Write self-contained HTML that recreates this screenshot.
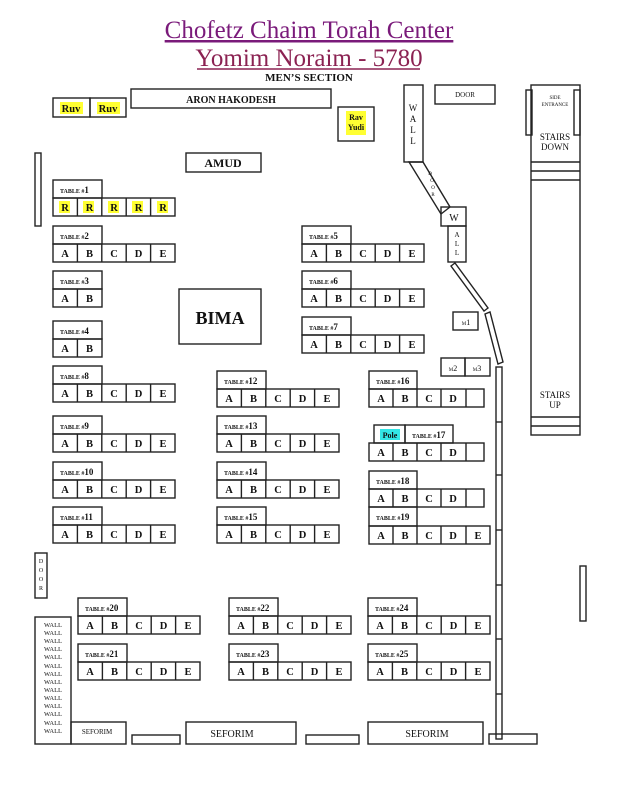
<!DOCTYPE html>
<html><head><meta charset="utf-8"><style>
html,body{margin:0;padding:0;background:#fff;}
svg{display:block;}
rect,line,polygon{fill:none;stroke:#222;stroke-width:1.4;}
text{font-family:"Liberation Serif",serif;fill:#111;}
.t{font-size:6px;font-weight:bold;}
.n{font-size:9px;}
.l{font-size:10.5px;font-weight:bold;text-anchor:middle;}
.s{font-size:8px;text-anchor:middle;}
.hl{fill:#ffff33;stroke:none;}
</style></head><body>
<svg width="618" height="800" viewBox="0 0 618 800" xmlns="http://www.w3.org/2000/svg">
<!-- titles -->
<text x="309" y="38" text-anchor="middle" style="font-size:25px;fill:#7a1a7a" text-decoration="underline">Chofetz Chaim Torah Center</text>
<line x1="168" y1="41" x2="450" y2="41" style="stroke:#7a1a7a;stroke-width:1.5"/>
<text x="309" y="66" text-anchor="middle" style="font-size:25px;fill:#8b2252">Yomim Noraim - 5780</text>
<line x1="197" y1="69" x2="420" y2="69" style="stroke:#8b2252;stroke-width:1.5"/>
<text x="309" y="81" text-anchor="middle" style="font-size:11px;font-weight:bold">MEN’S SECTION</text>

<!-- top items -->
<rect x="131" y="89" width="200" height="19"/><text x="231" y="103" class="s" style="font-size:10px;font-weight:bold">ARON HAKODESH</text>
<rect x="53" y="98" width="37" height="19"/><rect x="90" y="98" width="36" height="19"/>
<rect class="hl" x="60" y="102" width="23" height="12"/><rect class="hl" x="97" y="102" width="23" height="12"/>
<text x="71" y="112" class="l">Ruv</text><text x="108" y="112" class="l">Ruv</text>
<rect x="338" y="107" width="36" height="34"/>
<rect class="hl" x="346" y="111" width="20" height="24"/>
<text x="356" y="120" class="s" style="font-weight:bold">Rav</text><text x="356" y="130" class="s" style="font-weight:bold">Yudi</text>
<rect x="186" y="153" width="75" height="19"/><text x="223" y="167" class="l" style="font-size:12px">AMUD</text>
<rect x="35" y="153" width="6" height="73"/>
<rect x="179" y="289" width="82" height="55"/><text x="220" y="324" class="l" style="font-size:18px">BIMA</text>

<!-- right walls -->
<rect x="404" y="85" width="19" height="77"/>
<text x="413" y="111" class="s" style="font-size:9px">W</text><text x="413" y="122" class="s" style="font-size:9px">A</text><text x="413" y="133" class="s" style="font-size:9px">L</text><text x="413" y="144" class="s" style="font-size:9px">L</text>
<rect x="435" y="85" width="60" height="19"/><text x="465" y="97" class="s" style="font-size:7px">DOOR</text>
<polygon points="409,162 423,162 450,207 441,214"/>
<text x="430" y="175" class="s" style="font-size:5px">D</text><text x="432" y="182" class="s" style="font-size:5px">O</text><text x="433" y="189" class="s" style="font-size:5px">O</text><text x="433" y="196" class="s" style="font-size:5px">R</text>
<rect x="441" y="207" width="25" height="19"/><text x="454" y="221" class="s" style="font-size:10px">W</text>
<rect x="448" y="226" width="18" height="36"/>
<text x="457" y="237" class="s" style="font-size:7px">A</text><text x="457" y="246" class="s" style="font-size:7px">L</text><text x="457" y="255" class="s" style="font-size:7px">L</text>
<polygon points="451,266 455,263 488,308 484,311"/>
<polygon points="485,314 490,312 503,362 498,364"/>
<rect x="496" y="367" width="6" height="372"/>
<line x1="496" y1="422" x2="502" y2="422"/><line x1="496" y1="475" x2="502" y2="475"/><line x1="496" y1="530" x2="502" y2="530"/><line x1="496" y1="585" x2="502" y2="585"/><line x1="496" y1="639" x2="502" y2="639"/><line x1="496" y1="694" x2="502" y2="694"/>
<rect x="489" y="734" width="48" height="10"/>
<rect x="580" y="566" width="6" height="55"/>

<!-- stairs -->
<rect x="531" y="85" width="49" height="350"/>
<rect x="526" y="90" width="6" height="45"/><rect x="574" y="90" width="6" height="45"/>
<text x="555" y="99" class="s" style="font-size:5px">SIDE</text><text x="555" y="106" class="s" style="font-size:5px">ENTRANCE</text>
<text x="555" y="140" class="s" style="font-size:9px">STAIRS</text><text x="555" y="150" class="s" style="font-size:9px">DOWN</text>
<line x1="531" y1="162" x2="580" y2="162"/><line x1="531" y1="171" x2="580" y2="171"/><line x1="531" y1="180" x2="580" y2="180"/>
<text x="555" y="398" class="s" style="font-size:9px">STAIRS</text><text x="555" y="408" class="s" style="font-size:9px">UP</text>
<line x1="531" y1="417" x2="580" y2="417"/><line x1="531" y1="426" x2="580" y2="426"/>

<!-- M boxes -->
<rect x="453" y="312" width="25" height="18"/><text x="466" y="325" class="s" style="font-size:8px"><tspan style="font-size:5px">M</tspan>1</text>
<rect x="441" y="358" width="24" height="18"/><text x="453" y="371" class="s"><tspan style="font-size:5px">M</tspan>2</text>
<rect x="465" y="358" width="25" height="18"/><text x="477" y="371" class="s"><tspan style="font-size:5px">M</tspan>3</text>

<!-- left bottom -->
<rect x="35" y="553" width="12" height="45"/>
<text x="41" y="563" class="s" style="font-size:6px">D</text><text x="41" y="572" class="s" style="font-size:6px">O</text><text x="41" y="581" class="s" style="font-size:6px">O</text><text x="41" y="590" class="s" style="font-size:6px">R</text>
<rect x="35" y="617" width="36" height="127"/>
<g class="s" style="font-size:6.5px">
<text x="53" y="627" class="s" style="font-size:6.5px">WALL</text><text x="53" y="635" class="s" style="font-size:6.5px">WALL</text><text x="53" y="643" class="s" style="font-size:6.5px">WALL</text><text x="53" y="651" class="s" style="font-size:6.5px">WALL</text><text x="53" y="659" class="s" style="font-size:6.5px">WALL</text><text x="53" y="668" class="s" style="font-size:6.5px">WALL</text><text x="53" y="676" class="s" style="font-size:6.5px">WALL</text><text x="53" y="684" class="s" style="font-size:6.5px">WALL</text><text x="53" y="692" class="s" style="font-size:6.5px">WALL</text><text x="53" y="700" class="s" style="font-size:6.5px">WALL</text><text x="53" y="708" class="s" style="font-size:6.5px">WALL</text><text x="53" y="716" class="s" style="font-size:6.5px">WALL</text><text x="53" y="725" class="s" style="font-size:6.5px">WALL</text><text x="53" y="733" class="s" style="font-size:6.5px">WALL</text>
</g>
<rect x="71" y="722" width="55" height="22"/><text x="97" y="734" class="s" style="font-size:7px">SEFORIM</text>
<rect x="132" y="735" width="48" height="9"/>
<rect x="186" y="722" width="110" height="22"/><text x="232" y="737" class="s" style="font-size:10px">SEFORIM</text>
<rect x="306" y="735" width="53" height="9"/>
<rect x="368" y="722" width="115" height="22"/><text x="427" y="737" class="s" style="font-size:10px">SEFORIM</text>

<!-- TABLES -->
<!-- T1 -->
<rect x="53" y="180" width="49" height="18"/><text class="t" x="60" y="193">TABLE #<tspan class="n">1</tspan></text>
<rect class="hl" x="59" y="201" width="11" height="12"/><rect class="hl" x="83" y="201" width="11" height="12"/><rect class="hl" x="108" y="201" width="11" height="12"/><rect class="hl" x="132" y="201" width="11" height="12"/><rect class="hl" x="157" y="201" width="11" height="12"/>
<rect x="53" y="198" width="122" height="18"/><line x1="77.4" y1="198" x2="77.4" y2="216"/><line x1="101.8" y1="198" x2="101.8" y2="216"/><line x1="126.2" y1="198" x2="126.2" y2="216"/><line x1="150.6" y1="198" x2="150.6" y2="216"/>
<text class="l" x="65" y="211">R</text><text class="l" x="89.5" y="211">R</text><text class="l" x="114" y="211">R</text><text class="l" x="138.5" y="211">R</text><text class="l" x="163" y="211">R</text>

<!-- T2 -->
<rect x="53" y="226" width="49" height="18"/><text class="t" x="60" y="239">TABLE #<tspan class="n">2</tspan></text>
<rect x="53" y="244" width="122" height="18"/><line x1="77.4" y1="244" x2="77.4" y2="262"/><line x1="101.8" y1="244" x2="101.8" y2="262"/><line x1="126.2" y1="244" x2="126.2" y2="262"/><line x1="150.6" y1="244" x2="150.6" y2="262"/>
<text class="l" x="65" y="257">A</text><text class="l" x="89.5" y="257">B</text><text class="l" x="114" y="257">C</text><text class="l" x="138.5" y="257">D</text><text class="l" x="163" y="257">E</text>

<!-- T3 -->
<rect x="53" y="271" width="49" height="18"/><text class="t" x="60" y="284">TABLE #<tspan class="n">3</tspan></text>
<rect x="53" y="289" width="49" height="18"/><line x1="77.4" y1="289" x2="77.4" y2="307"/>
<text class="l" x="65" y="302">A</text><text class="l" x="89.5" y="302">B</text>

<!-- T4 -->
<rect x="53" y="321" width="49" height="18"/><text class="t" x="60" y="334">TABLE #<tspan class="n">4</tspan></text>
<rect x="53" y="339" width="49" height="18"/><line x1="77.4" y1="339" x2="77.4" y2="357"/>
<text class="l" x="65" y="352">A</text><text class="l" x="89.5" y="352">B</text>

<!-- T8 -->
<rect x="53" y="366" width="49" height="18"/><text class="t" x="60" y="379">TABLE #<tspan class="n">8</tspan></text>
<rect x="53" y="384" width="122" height="18"/><line x1="77.4" y1="384" x2="77.4" y2="402"/><line x1="101.8" y1="384" x2="101.8" y2="402"/><line x1="126.2" y1="384" x2="126.2" y2="402"/><line x1="150.6" y1="384" x2="150.6" y2="402"/>
<text class="l" x="65" y="397">A</text><text class="l" x="89.5" y="397">B</text><text class="l" x="114" y="397">C</text><text class="l" x="138.5" y="397">D</text><text class="l" x="163" y="397">E</text>

<!-- T9 -->
<rect x="53" y="416" width="49" height="18"/><text class="t" x="60" y="429">TABLE #<tspan class="n">9</tspan></text>
<rect x="53" y="434" width="122" height="18"/><line x1="77.4" y1="434" x2="77.4" y2="452"/><line x1="101.8" y1="434" x2="101.8" y2="452"/><line x1="126.2" y1="434" x2="126.2" y2="452"/><line x1="150.6" y1="434" x2="150.6" y2="452"/>
<text class="l" x="65" y="447">A</text><text class="l" x="89.5" y="447">B</text><text class="l" x="114" y="447">C</text><text class="l" x="138.5" y="447">D</text><text class="l" x="163" y="447">E</text>

<!-- T10 -->
<rect x="53" y="462" width="49" height="18"/><text class="t" x="60" y="475">TABLE #<tspan class="n">10</tspan></text>
<rect x="53" y="480" width="122" height="18"/><line x1="77.4" y1="480" x2="77.4" y2="498"/><line x1="101.8" y1="480" x2="101.8" y2="498"/><line x1="126.2" y1="480" x2="126.2" y2="498"/><line x1="150.6" y1="480" x2="150.6" y2="498"/>
<text class="l" x="65" y="493">A</text><text class="l" x="89.5" y="493">B</text><text class="l" x="114" y="493">C</text><text class="l" x="138.5" y="493">D</text><text class="l" x="163" y="493">E</text>

<!-- T11 -->
<rect x="53" y="507" width="49" height="18"/><text class="t" x="60" y="520">TABLE #<tspan class="n">11</tspan></text>
<rect x="53" y="525" width="122" height="18"/><line x1="77.4" y1="525" x2="77.4" y2="543"/><line x1="101.8" y1="525" x2="101.8" y2="543"/><line x1="126.2" y1="525" x2="126.2" y2="543"/><line x1="150.6" y1="525" x2="150.6" y2="543"/>
<text class="l" x="65" y="538">A</text><text class="l" x="89.5" y="538">B</text><text class="l" x="114" y="538">C</text><text class="l" x="138.5" y="538">D</text><text class="l" x="163" y="538">E</text>

<!-- T5 -->
<rect x="302" y="226" width="49" height="18"/><text class="t" x="309" y="239">TABLE #<tspan class="n">5</tspan></text>
<rect x="302" y="244" width="122" height="18"/><line x1="326.4" y1="244" x2="326.4" y2="262"/><line x1="350.8" y1="244" x2="350.8" y2="262"/><line x1="375.2" y1="244" x2="375.2" y2="262"/><line x1="399.6" y1="244" x2="399.6" y2="262"/>
<text class="l" x="314" y="257">A</text><text class="l" x="338.5" y="257">B</text><text class="l" x="363" y="257">C</text><text class="l" x="387.5" y="257">D</text><text class="l" x="412" y="257">E</text>

<!-- T6 -->
<rect x="302" y="271" width="49" height="18"/><text class="t" x="309" y="284">TABLE #<tspan class="n">6</tspan></text>
<rect x="302" y="289" width="122" height="18"/><line x1="326.4" y1="289" x2="326.4" y2="307"/><line x1="350.8" y1="289" x2="350.8" y2="307"/><line x1="375.2" y1="289" x2="375.2" y2="307"/><line x1="399.6" y1="289" x2="399.6" y2="307"/>
<text class="l" x="314" y="302">A</text><text class="l" x="338.5" y="302">B</text><text class="l" x="363" y="302">C</text><text class="l" x="387.5" y="302">D</text><text class="l" x="412" y="302">E</text>

<!-- T7 -->
<rect x="302" y="317" width="49" height="18"/><text class="t" x="309" y="330">TABLE #<tspan class="n">7</tspan></text>
<rect x="302" y="335" width="122" height="18"/><line x1="326.4" y1="335" x2="326.4" y2="353"/><line x1="350.8" y1="335" x2="350.8" y2="353"/><line x1="375.2" y1="335" x2="375.2" y2="353"/><line x1="399.6" y1="335" x2="399.6" y2="353"/>
<text class="l" x="314" y="348">A</text><text class="l" x="338.5" y="348">B</text><text class="l" x="363" y="348">C</text><text class="l" x="387.5" y="348">D</text><text class="l" x="412" y="348">E</text>

<!-- T12 -->
<rect x="217" y="371" width="49" height="18"/><text class="t" x="224" y="384">TABLE #<tspan class="n">12</tspan></text>
<rect x="217" y="389" width="122" height="18"/><line x1="241.4" y1="389" x2="241.4" y2="407"/><line x1="265.8" y1="389" x2="265.8" y2="407"/><line x1="290.2" y1="389" x2="290.2" y2="407"/><line x1="314.6" y1="389" x2="314.6" y2="407"/>
<text class="l" x="229" y="402">A</text><text class="l" x="253.5" y="402">B</text><text class="l" x="278" y="402">C</text><text class="l" x="302.5" y="402">D</text><text class="l" x="327" y="402">E</text>

<!-- T13 -->
<rect x="217" y="416" width="49" height="18"/><text class="t" x="224" y="429">TABLE #<tspan class="n">13</tspan></text>
<rect x="217" y="434" width="122" height="18"/><line x1="241.4" y1="434" x2="241.4" y2="452"/><line x1="265.8" y1="434" x2="265.8" y2="452"/><line x1="290.2" y1="434" x2="290.2" y2="452"/><line x1="314.6" y1="434" x2="314.6" y2="452"/>
<text class="l" x="229" y="447">A</text><text class="l" x="253.5" y="447">B</text><text class="l" x="278" y="447">C</text><text class="l" x="302.5" y="447">D</text><text class="l" x="327" y="447">E</text>

<!-- T14 -->
<rect x="217" y="462" width="49" height="18"/><text class="t" x="224" y="475">TABLE #<tspan class="n">14</tspan></text>
<rect x="217" y="480" width="122" height="18"/><line x1="241.4" y1="480" x2="241.4" y2="498"/><line x1="265.8" y1="480" x2="265.8" y2="498"/><line x1="290.2" y1="480" x2="290.2" y2="498"/><line x1="314.6" y1="480" x2="314.6" y2="498"/>
<text class="l" x="229" y="493">A</text><text class="l" x="253.5" y="493">B</text><text class="l" x="278" y="493">C</text><text class="l" x="302.5" y="493">D</text><text class="l" x="327" y="493">E</text>

<!-- T15 -->
<rect x="217" y="507" width="49" height="18"/><text class="t" x="224" y="520">TABLE #<tspan class="n">15</tspan></text>
<rect x="217" y="525" width="122" height="18"/><line x1="241.4" y1="525" x2="241.4" y2="543"/><line x1="265.8" y1="525" x2="265.8" y2="543"/><line x1="290.2" y1="525" x2="290.2" y2="543"/><line x1="314.6" y1="525" x2="314.6" y2="543"/>
<text class="l" x="229" y="538">A</text><text class="l" x="253.5" y="538">B</text><text class="l" x="278" y="538">C</text><text class="l" x="302.5" y="538">D</text><text class="l" x="327" y="538">E</text>

<!-- T16 -->
<rect x="369" y="371" width="48" height="18"/><text class="t" x="376" y="384">TABLE #<tspan class="n">16</tspan></text>
<rect x="369" y="389" width="115" height="18"/><line x1="393" y1="389" x2="393" y2="407"/><line x1="417" y1="389" x2="417" y2="407"/><line x1="441" y1="389" x2="441" y2="407"/><line x1="466" y1="389" x2="466" y2="407"/>
<text class="l" x="381" y="402">A</text><text class="l" x="405" y="402">B</text><text class="l" x="429" y="402">C</text><text class="l" x="453" y="402">D</text>

<!-- T17 -->
<rect x="374" y="425" width="31" height="18"/><rect x="380" y="429" width="20" height="11" style="fill:#33e6e6;stroke:none"/><text class="s" x="390" y="438" style="font-weight:bold">Pole</text>
<rect x="405" y="425" width="48" height="18"/><text class="t" x="412" y="438">TABLE #<tspan class="n">17</tspan></text>
<rect x="369" y="443" width="115" height="18"/><line x1="393" y1="443" x2="393" y2="461"/><line x1="417" y1="443" x2="417" y2="461"/><line x1="441" y1="443" x2="441" y2="461"/><line x1="466" y1="443" x2="466" y2="461"/>
<text class="l" x="381" y="456">A</text><text class="l" x="405" y="456">B</text><text class="l" x="429" y="456">C</text><text class="l" x="453" y="456">D</text>

<!-- T18 -->
<rect x="369" y="471" width="48" height="18"/><text class="t" x="376" y="484">TABLE #<tspan class="n">18</tspan></text>
<rect x="369" y="489" width="115" height="18"/><line x1="393" y1="489" x2="393" y2="507"/><line x1="417" y1="489" x2="417" y2="507"/><line x1="441" y1="489" x2="441" y2="507"/><line x1="466" y1="489" x2="466" y2="507"/>
<text class="l" x="381" y="502">A</text><text class="l" x="405" y="502">B</text><text class="l" x="429" y="502">C</text><text class="l" x="453" y="502">D</text>

<!-- T19 -->
<rect x="369" y="507" width="48" height="19"/><text class="t" x="376" y="520">TABLE #<tspan class="n">19</tspan></text>
<rect x="369" y="526" width="121" height="18"/><line x1="393" y1="526" x2="393" y2="544"/><line x1="417" y1="526" x2="417" y2="544"/><line x1="441" y1="526" x2="441" y2="544"/><line x1="466" y1="526" x2="466" y2="544"/>
<text class="l" x="381" y="539">A</text><text class="l" x="405" y="539">B</text><text class="l" x="429" y="539">C</text><text class="l" x="453" y="539">D</text><text class="l" x="478" y="539">E</text>

<!-- T20 -->
<rect x="78" y="598" width="49" height="18"/><text class="t" x="85" y="611">TABLE #<tspan class="n">20</tspan></text>
<rect x="78" y="616" width="122" height="18"/><line x1="102.4" y1="616" x2="102.4" y2="634"/><line x1="126.8" y1="616" x2="126.8" y2="634"/><line x1="151.2" y1="616" x2="151.2" y2="634"/><line x1="175.6" y1="616" x2="175.6" y2="634"/>
<text class="l" x="90" y="629">A</text><text class="l" x="114.5" y="629">B</text><text class="l" x="139" y="629">C</text><text class="l" x="163.5" y="629">D</text><text class="l" x="188" y="629">E</text>

<!-- T21 -->
<rect x="78" y="644" width="49" height="18"/><text class="t" x="85" y="657">TABLE #<tspan class="n">21</tspan></text>
<rect x="78" y="662" width="122" height="18"/><line x1="102.4" y1="662" x2="102.4" y2="680"/><line x1="126.8" y1="662" x2="126.8" y2="680"/><line x1="151.2" y1="662" x2="151.2" y2="680"/><line x1="175.6" y1="662" x2="175.6" y2="680"/>
<text class="l" x="90" y="675">A</text><text class="l" x="114.5" y="675">B</text><text class="l" x="139" y="675">C</text><text class="l" x="163.5" y="675">D</text><text class="l" x="188" y="675">E</text>

<!-- T22 -->
<rect x="229" y="598" width="49" height="18"/><text class="t" x="236" y="611">TABLE #<tspan class="n">22</tspan></text>
<rect x="229" y="616" width="122" height="18"/><line x1="253.4" y1="616" x2="253.4" y2="634"/><line x1="277.8" y1="616" x2="277.8" y2="634"/><line x1="302.2" y1="616" x2="302.2" y2="634"/><line x1="326.6" y1="616" x2="326.6" y2="634"/>
<text class="l" x="241" y="629">A</text><text class="l" x="265.5" y="629">B</text><text class="l" x="290" y="629">C</text><text class="l" x="314.5" y="629">D</text><text class="l" x="339" y="629">E</text>

<!-- T23 -->
<rect x="229" y="644" width="49" height="18"/><text class="t" x="236" y="657">TABLE #<tspan class="n">23</tspan></text>
<rect x="229" y="662" width="122" height="18"/><line x1="253.4" y1="662" x2="253.4" y2="680"/><line x1="277.8" y1="662" x2="277.8" y2="680"/><line x1="302.2" y1="662" x2="302.2" y2="680"/><line x1="326.6" y1="662" x2="326.6" y2="680"/>
<text class="l" x="241" y="675">A</text><text class="l" x="265.5" y="675">B</text><text class="l" x="290" y="675">C</text><text class="l" x="314.5" y="675">D</text><text class="l" x="339" y="675">E</text>

<!-- T24 -->
<rect x="368" y="598" width="49" height="18"/><text class="t" x="375" y="611">TABLE #<tspan class="n">24</tspan></text>
<rect x="368" y="616" width="122" height="18"/><line x1="392.4" y1="616" x2="392.4" y2="634"/><line x1="416.8" y1="616" x2="416.8" y2="634"/><line x1="441.2" y1="616" x2="441.2" y2="634"/><line x1="465.6" y1="616" x2="465.6" y2="634"/>
<text class="l" x="380" y="629">A</text><text class="l" x="404.5" y="629">B</text><text class="l" x="429" y="629">C</text><text class="l" x="453.5" y="629">D</text><text class="l" x="478" y="629">E</text>

<!-- T25 -->
<rect x="368" y="644" width="49" height="18"/><text class="t" x="375" y="657">TABLE #<tspan class="n">25</tspan></text>
<rect x="368" y="662" width="122" height="18"/><line x1="392.4" y1="662" x2="392.4" y2="680"/><line x1="416.8" y1="662" x2="416.8" y2="680"/><line x1="441.2" y1="662" x2="441.2" y2="680"/><line x1="465.6" y1="662" x2="465.6" y2="680"/>
<text class="l" x="380" y="675">A</text><text class="l" x="404.5" y="675">B</text><text class="l" x="429" y="675">C</text><text class="l" x="453.5" y="675">D</text><text class="l" x="478" y="675">E</text>
</svg>
</body></html>
